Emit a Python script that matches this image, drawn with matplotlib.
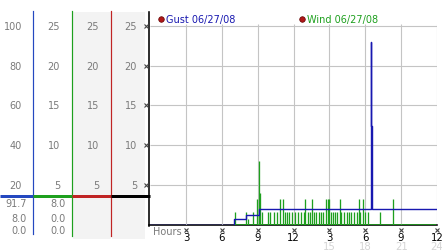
import matplotlib
matplotlib.use("Agg")
import matplotlib.pyplot as plt
from matplotlib.transforms import blended_transform_factory
from matplotlib.patches import Rectangle

# ---------------- data ----------------
x_ticks = [3, 6, 9, 12, 15, 18, 21, 24]
x_labels = ["3", "6", "9", "12", "3", "6", "9", "12"]
x_labels2 = ["", "", "", "", "15", "18", "21", "24"]
y_ticks = [5, 10, 15, 20, 25]
col1_labels = ["20", "40", "60", "80", "100"]
col2_labels = ["5", "10", "15", "20", "25"]
col3_labels = ["5", "10", "15", "20", "25"]
col4_labels = ["5", "10", "15", "20", "25"]
summary1 = ["91.7", "8.0", "0.0"]
summary2 = ["8.0", "0.0", "0.0"]

gust_hours = [0, 7.05, 8.0, 9.15, 18.45, 18.52, 18.52, 18.6, 23.9]
gust_speed = [0, 0.7, 1.25, 1.95, 12.4, 23.0, 12.4, 1.95, 1.95]

wind_start, wind_end = 7.0, 23.9
wind_hours = [7.08, 8.0, 8.2, 8.6, 8.95, 9.08, 9.2, 9.4, 9.85, 10.05, 10.4, 10.65,
              10.9, 11.1, 11.25, 11.45, 11.65, 11.9, 12.15, 12.4, 12.65, 12.85,
              13.0, 13.2, 13.35, 13.55, 13.7, 13.9, 14.1, 14.3, 14.5, 14.7, 14.85,
              15.0, 15.15, 15.3, 15.5, 15.65, 15.85, 16.0, 16.25, 16.45, 16.65,
              16.85, 17.1, 17.3, 17.45, 17.6, 17.8, 18.0, 18.2, 19.2, 20.3]
wind_speed = [1.6, 1.6, 0.8, 1.6, 3.2, 8.0, 4.0, 1.6, 1.6, 1.6, 1.6, 1.6,
              3.2, 3.2, 1.6, 1.6, 1.6, 1.6, 1.6, 1.6, 1.6, 1.6,
              3.2, 1.6, 1.6, 3.2, 1.6, 1.6, 1.6, 1.6, 1.6, 3.2, 3.2,
              3.2, 1.6, 1.6, 1.6, 1.6, 3.2, 1.6, 1.6, 1.6, 1.6,
              1.6, 1.6, 1.6, 3.2, 1.6, 3.2, 1.6, 1.6, 1.6, 3.2]

# ---------------- style ----------------
W, H = 442, 253
BLUE = "#1818b0"
BLUE2 = "#2448c0"
GREEN = "#1ea01e"
RED = "#c02424"
GRID = "#c4c4c4"
LBL = "#7a7a7a"
FS = 7

fig = plt.figure(figsize=(W / 100, H / 100), dpi=100)
fig.patch.set_facecolor("white")

bg = fig.add_axes([0, 0, 1, 1])
bg.set_xlim(0, W)
bg.set_ylim(H, 0)
bg.axis("off")

ax = fig.add_axes([150 / W, 1 - 226 / H, (437 - 150) / W, (226 - 13) / H])
ax.set_xlim(0, 24)
ax.set_ylim(0, 25 * (226 - 13) / (226 - 26.7))
ax.set_facecolor("none")
for s in ax.spines.values():
    s.set_visible(False)
ax.set_xticks([])
ax.set_yticks([])

px = 72 / 100  # one pixel in points

tr = blended_transform_factory(bg.transData, ax.transData)

# left panel shading
bg.add_patch(Rectangle((73, 13), 38, 227, facecolor="#f3f3f3", edgecolor="none"))
bg.add_patch(Rectangle((112, 13), 33, 227, facecolor="#f3f3f3", edgecolor="none"))

# left panel vertical lines
bg.plot([33, 33], [12, 235], color=BLUE2, lw=1.2 * px)
bg.plot([72, 72], [12, 237], color=GREEN, lw=1.2 * px)
bg.plot([111, 111], [12, 237], color=RED, lw=1.2 * px)
bg.plot([149, 149], [13, 227], color="black", lw=1.6 * px)

# left panel horizontal separator
bg.plot([0, 33], [197, 197], color=BLUE2, lw=3 * px, solid_capstyle="butt")
bg.plot([33, 72], [197, 197], color=GREEN, lw=3 * px, solid_capstyle="butt")
bg.plot([72, 111], [197, 197], color=RED, lw=3 * px, solid_capstyle="butt")
bg.plot([111, 150], [197, 197], color="black", lw=3 * px, solid_capstyle="butt")

# left panel scale labels
for xr, labs in [(22, col1_labels), (60, col2_labels), (99, col3_labels), (137, col4_labels)]:
    for v, t in zip(y_ticks, labs):
        bg.text(xr, v, t, transform=tr, ha="right", va="center", fontsize=FS, color=LBL)
for v in y_ticks:
    bg.plot([146], [v], transform=tr, marker="x", ms=2.5, mew=0.8, color="#444444")

for yy, t1, t2 in zip([204, 219, 231], summary1, summary2):
    bg.text(27, yy, t1, ha="right", va="center", fontsize=FS, color=LBL)
    bg.text(66, yy, t2, ha="right", va="center", fontsize=FS, color=LBL)

# bottom axis line
bg.plot([149, 437], [226, 226], color="black", lw=1.6 * px)

# grid
ax.hlines(y_ticks, 0, 24, color=GRID, lw=1.1 * px, zorder=1)
ax.vlines(x_ticks, 0, 25.2, color=GRID, lw=1.1 * px, zorder=1)

# data
ax.hlines(0, wind_start, wind_end, color=GREEN, lw=1.6 * px, zorder=2)
ax.vlines(wind_hours, 0, wind_speed, color=GREEN, lw=1.3 * px, zorder=3)
ax.plot(gust_hours, gust_speed, drawstyle="steps-post", color=BLUE, lw=1.4 * px,
        zorder=4)

# x tick labels
xtr = blended_transform_factory(ax.transData, bg.transData)
for h, t1, t2 in zip(x_ticks, x_labels, x_labels2):
    bg.plot([h], [231], transform=xtr, marker="x", ms=2.5, mew=0.8, color="#444444")
    bg.text(h, 238.5, t1, transform=xtr, ha="center", va="center", fontsize=FS + 0.3,
            color="black")
    if t2:
        bg.text(h, 247, t2, transform=xtr, ha="center", va="center", fontsize=FS + 0.3,
                color="#d4d4d4")
bg.text(153, 232, "Hours", ha="left", va="center", fontsize=FS, color=LBL)

# legend
bg.plot([160.5], [19.5], marker="o", ms=4, color="#b01818", mec="#600000", mew=0.5)
bg.text(166, 19.5, "Gust 06/27/08", ha="left", va="center", fontsize=FS, color=BLUE)
bg.plot([302], [19.5], marker="o", ms=4, color="#b01818", mec="#600000", mew=0.5)
bg.text(307, 19.5, "Wind 06/27/08", ha="left", va="center", fontsize=FS, color=GREEN)

fig.savefig("out.png", dpi=100, facecolor="white")
